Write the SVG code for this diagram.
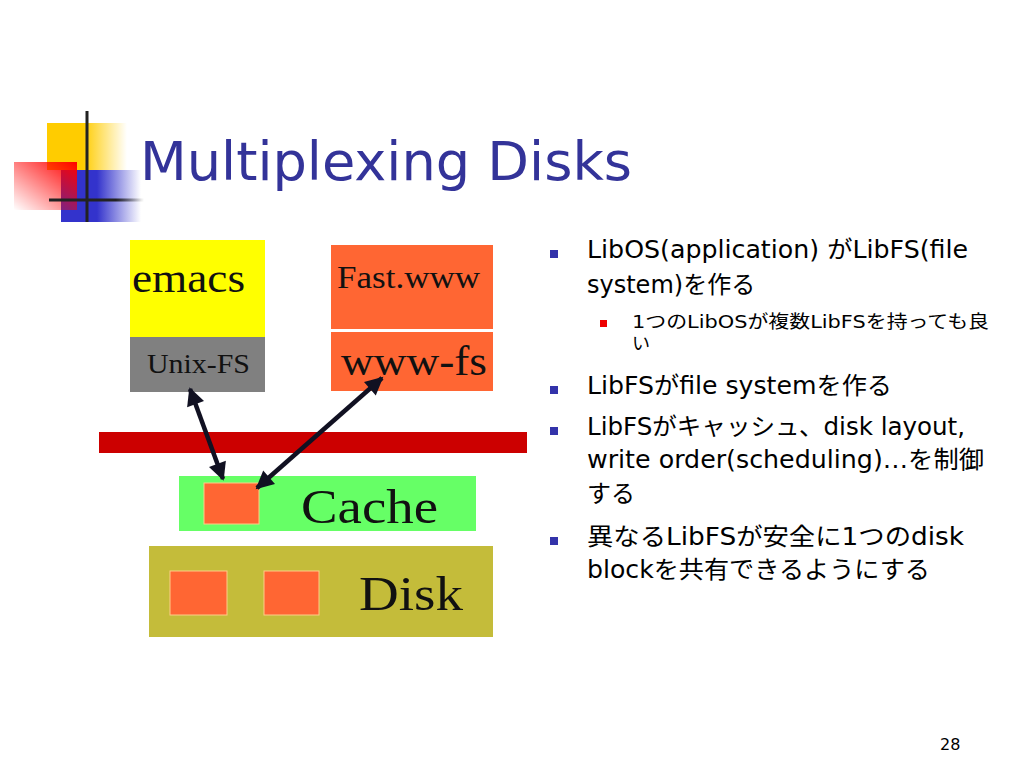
<svg xmlns="http://www.w3.org/2000/svg" width="1024" height="768" viewBox="0 0 1024 768">
<defs>
<linearGradient id="gy" x1="0" y1="0" x2="1" y2="0"><stop offset="0" stop-color="#FFCC00"/><stop offset="0.45" stop-color="#FFCC00"/><stop offset="1" stop-color="#FFCC00" stop-opacity="0"/></linearGradient>
<linearGradient id="gb" x1="0" y1="0" x2="1" y2="0"><stop offset="0" stop-color="#3333CC"/><stop offset="0.45" stop-color="#3333CC"/><stop offset="1" stop-color="#3333CC" stop-opacity="0"/></linearGradient>
<linearGradient id="gr" x1="1" y1="0" x2="0" y2="1"><stop offset="0" stop-color="#FF0000"/><stop offset="1" stop-color="#FF0000" stop-opacity="0"/></linearGradient>
<linearGradient id="gl" x1="0" y1="0" x2="1" y2="0"><stop offset="0" stop-color="#222"/><stop offset="0.7" stop-color="#222"/><stop offset="1" stop-color="#222" stop-opacity="0"/></linearGradient>
<marker id="ah" viewBox="0 0 10 10" refX="9" refY="5" markerWidth="4.2" markerHeight="4" orient="auto-start-reverse" markerUnits="strokeWidth"><path d="M0,0 L10,5 L0,10 z" fill="#111122"/></marker>
</defs>
<style>
.serif{font-family:"Liberation Serif","Times New Roman",serif;fill:#111}
.body{font-family:"DejaVu Sans","Noto Sans CJK JP",sans-serif;fill:#000}
.blt{fill:#3333AA}
.conn{stroke:#111122;stroke-width:4.5;fill:none;marker-start:url(#ah);marker-end:url(#ah)}
</style>
<rect width="1024" height="768" fill="#fff"/>
<g id="logo">
<rect x="47" y="123" width="80" height="47" fill="url(#gy)"/>
<rect x="61" y="170" width="80" height="52" fill="url(#gb)"/>
<rect x="14" y="162" width="63" height="48" fill="url(#gr)"/>
<rect x="85.5" y="111" width="3" height="111" fill="#222"/>
<rect x="49" y="198.5" width="95" height="3" fill="url(#gl)"/>
</g>
<text id="title" x="140" y="180" font-family="DejaVu Sans,Verdana,sans-serif" font-size="54" fill="#333399" textLength="492" lengthAdjust="spacingAndGlyphs">Multiplexing Disks</text>
<g id="emacs"><rect x="130" y="240" width="135" height="97" fill="#FFFF00"/><text class="serif" x="132" y="292" font-size="43" textLength="113" lengthAdjust="spacingAndGlyphs">emacs</text></g>
<g id="unixfs"><rect x="130" y="337" width="135" height="55" fill="#808080"/><text class="serif" x="147" y="373" font-size="27" fill="#222" textLength="103" lengthAdjust="spacingAndGlyphs">Unix-FS</text></g>
<g id="fastwww"><rect x="331" y="245" width="162" height="84" fill="#FF6633"/><text class="serif" x="337" y="288" font-size="32" textLength="143" lengthAdjust="spacingAndGlyphs">Fast.www</text></g>
<g id="wwwfs"><rect x="331" y="332" width="162" height="59" fill="#FF6633"/><text class="serif" x="341" y="375" font-size="43" textLength="146" lengthAdjust="spacingAndGlyphs">www-fs</text></g>
<g id="bar"><rect x="99" y="432" width="428" height="21" fill="#CC0000"/></g>
<g id="cache"><rect x="179" y="476" width="297" height="55" fill="#66FF66"/><rect x="204" y="483" width="55" height="41" fill="#FF6633" stroke="#FFCC88" stroke-width="1"/><text class="serif" x="301" y="523" font-size="49" textLength="137" lengthAdjust="spacingAndGlyphs">Cache</text></g>
<g id="disk"><rect x="149" y="546" width="344" height="91" fill="#C4BC3A"/><rect x="170" y="571" width="57" height="44" fill="#FF6633" stroke="#FFCC88" stroke-width="1"/><rect x="264" y="571" width="55" height="44" fill="#FF6633" stroke="#FFCC88" stroke-width="1"/><text class="serif" x="359" y="610" font-size="49" textLength="104" lengthAdjust="spacingAndGlyphs">Disk</text></g>
<g id="connectors">
<line class="conn" x1="190" y1="389" x2="223" y2="479"/>
<line class="conn" x1="382" y1="378" x2="257" y2="488"/>
</g>
<g id="bullets">
<rect class="blt" x="550" y="250" width="8" height="8"/>
<text class="body" x="587" y="258" font-size="24" textLength="381" lengthAdjust="spacingAndGlyphs">LibOS(application) がLibFS(file</text>
<text class="body" x="587" y="293" font-size="24">system)を作る</text>
<rect x="600" y="320" width="7" height="7" fill="#EE0000"/>
<text class="body" x="632" y="328" font-size="18" textLength="357" lengthAdjust="spacingAndGlyphs">1つのLibOSが複数LibFSを持っても良</text>
<text class="body" x="632" y="350" font-size="18">い</text>
<rect class="blt" x="550" y="386" width="8" height="8"/>
<text class="body" x="587" y="394" font-size="24" textLength="305" lengthAdjust="spacingAndGlyphs">LibFSがfile systemを作る</text>
<rect class="blt" x="550" y="427" width="8" height="8"/>
<text class="body" x="587" y="435" font-size="24" textLength="378" lengthAdjust="spacingAndGlyphs">LibFSがキャッシュ、disk layout,</text>
<text class="body" x="587" y="468" font-size="24" textLength="397" lengthAdjust="spacingAndGlyphs">write order(scheduling)…を制御</text>
<text class="body" x="587" y="502" font-size="24">する</text>
<rect class="blt" x="550" y="537" width="8" height="8"/>
<text class="body" x="587" y="545" font-size="24" textLength="377" lengthAdjust="spacingAndGlyphs">異なるLibFSが安全に1つのdisk</text>
<text class="body" x="587" y="578" font-size="24" textLength="343" lengthAdjust="spacingAndGlyphs">blockを共有できるようにする</text>
</g>
<text id="page" x="940" y="750" font-family="DejaVu Sans,sans-serif" font-size="16" fill="#000">28</text>
</svg>
